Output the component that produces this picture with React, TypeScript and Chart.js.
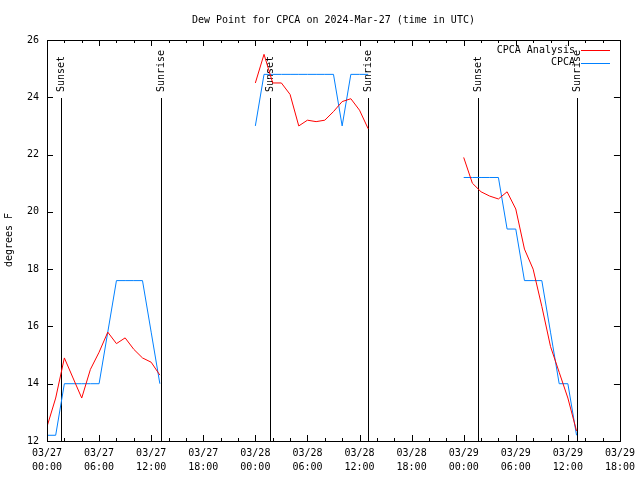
import React, { useEffect, useRef } from "react";
import { Chart, registerables } from "chart.js";
Chart.register(...registerables);

const TITLE = "Dew Point for CPCA on 2024-Mar-27 (time in UTC)";
const Y_LABEL = "degrees F";
const MONTH = "03";
const FIRST_DAY = 27;
const FONT = "'DejaVu Sans Mono', 'Liberation Mono', monospace";

// hours since 2024-03-27 00:00 UTC
const HOURS_DAY1 = [0, 1, 2, 3, 4, 5, 6, 7, 8, 9, 10, 11, 12, 13];
const HOURS_DAY2 = [24, 25, 26, 27, 28, 29, 30, 31, 32, 33, 34, 35, 36, 37];
const HOURS_DAY3 = [48, 49, 50, 51, 52, 53, 54, 55, 56, 57, 58, 59, 60, 61];

const ANALYSIS_DAY1 = [12.5, 13.5, 14.9, 14.2, 13.5, 14.5, 15.1, 15.8, 15.4, 15.6, 15.2, 14.9, 14.75, 14.3];
const ANALYSIS_DAY2 = [24.5, 25.5, 24.5, 24.5, 24.1, 23.0, 23.2, 23.15, 23.2, 23.5, 23.85, 23.95, 23.55, 22.9];
const ANALYSIS_DAY3 = [21.9, 21.0, 20.7, 20.55, 20.45, 20.7, 20.1, 18.7, 18.0, 16.7, 15.3, 14.4, 13.5, 12.35];

const OBS_DAY1 = [12.2, 12.2, 14.0, 14.0, 14.0, 14.0, 14.0, 15.8, 17.6, 17.6, 17.6, 17.6, 15.8, 14.0];
const OBS_DAY2 = [23.0, 24.8, 24.8, 24.8, 24.8, 24.8, 24.8, 24.8, 24.8, 24.8, 23.0, 24.8, 24.8, 24.8];
const OBS_DAY3 = [21.2, 21.2, 21.2, 21.2, 21.2, 19.4, 19.4, 17.6, 17.6, 17.6, 15.8, 14.0, 14.0, 12.2];

const SUNSET_HOURS = [1.65, 25.65, 49.63];
const SUNRISE_HOURS = [13.1, 37.03, 61.0];

const X_TICKS = [0, 6, 12, 18, 24, 30, 36, 42, 48, 54, 60, 66];
const X_MINOR = [2, 4, 8, 10, 14, 16, 20, 22, 26, 28, 32, 34, 38, 40, 44, 46, 50, 52, 56, 58, 62, 64];
const Y_TICKS = [12, 14, 16, 18, 20, 22, 24, 26];

const SERIES_NAMES = ["CPCA Analysis", "CPCA"];
const SERIES_COLORS = ["#ff0000", "#0080ff"];

function buildPoints(hourSets: number[][], valueSets: number[][]) {
  const pts: { x: number; y: number | null }[] = [];
  hourSets.forEach((hrs, i) => {
    if (i > 0) pts.push({ x: hrs[0] - 0.5, y: null });
    hrs.forEach((h, j) => pts.push({ x: h, y: valueSets[i][j] }));
  });
  return pts;
}

const framePlugin = {
  id: "frame",
  beforeDatasetsDraw(chart: any) {
    const { ctx, chartArea: a, scales } = chart;
    const xs = scales.x;
    ctx.save();
    ctx.strokeStyle = "#000";
    ctx.lineWidth = 1;
    ctx.fillStyle = "#000";
    ctx.font = `10px ${FONT}`;
    const drawSun = (h: number, label: string) => {
      const x = Math.round(xs.getPixelForValue(h)) + 0.5;
      ctx.beginPath();
      ctx.moveTo(x, 98);
      ctx.lineTo(x, a.bottom);
      ctx.stroke();
      ctx.save();
      ctx.translate(x, 92);
      ctx.rotate(-Math.PI / 2);
      ctx.textAlign = "left";
      ctx.textBaseline = "middle";
      ctx.fillText(label, 0, 0);
      ctx.restore();
    };
    SUNSET_HOURS.forEach((h) => drawSun(h, "Sunset"));
    SUNRISE_HOURS.forEach((h) => drawSun(h, "Sunrise"));
    ctx.restore();
  },
  afterDraw(chart: any) {
    const { ctx, chartArea: a, scales } = chart;
    const xs = scales.x;
    const ys = scales.y;
    ctx.save();
    ctx.strokeStyle = "#000";
    ctx.lineWidth = 1;
    // frame
    ctx.strokeRect(Math.round(a.left) + 0.5, Math.round(a.top) + 0.5, Math.round(a.right - a.left), Math.round(a.bottom - a.top));
    ctx.beginPath();
    const tick = (x: number, len: number) => {
      const px = Math.round(x) + 0.5;
      ctx.moveTo(px, a.bottom);
      ctx.lineTo(px, a.bottom - len);
      ctx.moveTo(px, a.top);
      ctx.lineTo(px, a.top + len);
    };
    X_TICKS.forEach((v) => tick(xs.getPixelForValue(v), 6));
    X_MINOR.forEach((v) => tick(xs.getPixelForValue(v), 3));
    Y_TICKS.forEach((v) => {
      const py = Math.round(ys.getPixelForValue(v)) + 0.5;
      ctx.moveTo(a.left, py);
      ctx.lineTo(a.left + 6, py);
      ctx.moveTo(a.right, py);
      ctx.lineTo(a.right - 6, py);
    });
    ctx.stroke();

    ctx.fillStyle = "#000";
    ctx.font = `10px ${FONT}`;
    ctx.textAlign = "center";
    ctx.textBaseline = "middle";
    ctx.fillText(TITLE, (a.left + a.right) / 2, 20);

    ctx.save();
    ctx.translate(9, 240);
    ctx.rotate(-Math.PI / 2);
    ctx.fillText(Y_LABEL, 0, 0);
    ctx.restore();

    // legend
    SERIES_NAMES.forEach((name, i) => {
      const y = 50 + i * 12.5;
      ctx.textAlign = "right";
      ctx.fillStyle = "#000";
      ctx.fillText(name, 575, y);
      ctx.strokeStyle = SERIES_COLORS[i];
      ctx.beginPath();
      ctx.moveTo(581, Math.round(y) + 0.5);
      ctx.lineTo(610, Math.round(y) + 0.5);
      ctx.stroke();
    });
    ctx.restore();
  },
};

export default function App() {
  const ref = useRef<HTMLCanvasElement | null>(null);
  useEffect(() => {
    if (!ref.current) return;
    const hours = [HOURS_DAY1, HOURS_DAY2, HOURS_DAY3];
    const chart = new Chart(ref.current, {
      type: "line",
      data: {
        datasets: [
          {
            label: SERIES_NAMES[0],
            data: buildPoints(hours, [ANALYSIS_DAY1, ANALYSIS_DAY2, ANALYSIS_DAY3]) as any,
            borderColor: SERIES_COLORS[0],
            borderWidth: 1,
            pointRadius: 0,
            tension: 0,
            spanGaps: false,
          },
          {
            label: SERIES_NAMES[1],
            data: buildPoints(hours, [OBS_DAY1, OBS_DAY2, OBS_DAY3]) as any,
            borderColor: SERIES_COLORS[1],
            borderWidth: 1,
            pointRadius: 0,
            tension: 0,
            spanGaps: false,
          },
        ],
      },
      options: {
        responsive: false,
        animation: false,
        layout: { padding: { top: 40, right: 18, left: 0, bottom: 0 } },
        plugins: {
          legend: { display: false },
          title: { display: false },
          tooltip: { enabled: false },
        },
        scales: {
          x: {
            type: "linear",
            min: 0,
            max: 66,
            afterBuildTicks: (s: any) => {
              s.ticks = X_TICKS.map((v) => ({ value: v }));
            },
            afterFit: (s: any) => {
              s.height = 39;
            },
            grid: { display: false, drawTicks: false },
            border: { display: false },
            ticks: {
              autoSkip: false,
              maxRotation: 0,
              padding: 5,
              color: "#000",
              font: { family: FONT, size: 10, lineHeight: 1.4 },
              callback: (v: any) => {
                const h = Number(v);
                const day = FIRST_DAY + Math.floor(h / 24);
                const hr = h % 24;
                return [`${MONTH}/${day}`, `${String(hr).padStart(2, "0")}:00`];
              },
            },
          },
          y: {
            min: 12,
            max: 26,
            afterBuildTicks: (s: any) => {
              s.ticks = Y_TICKS.map((v) => ({ value: v }));
            },
            afterFit: (s: any) => {
              s.width = 47;
            },
            grid: { display: false, drawTicks: false },
            border: { display: false },
            ticks: {
              padding: 8,
              color: "#000",
              font: { family: FONT, size: 10 },
            },
          },
        },
      },
      plugins: [framePlugin],
    });
    return () => chart.destroy();
  }, []);
  return (
    <div style={{ position: "fixed", left: 0, top: 0, width: 640, height: 480, background: "#fff" }}>
      <canvas ref={ref} width={640} height={480} style={{ width: 640, height: 480, display: "block" }} />
    </div>
  );
}
